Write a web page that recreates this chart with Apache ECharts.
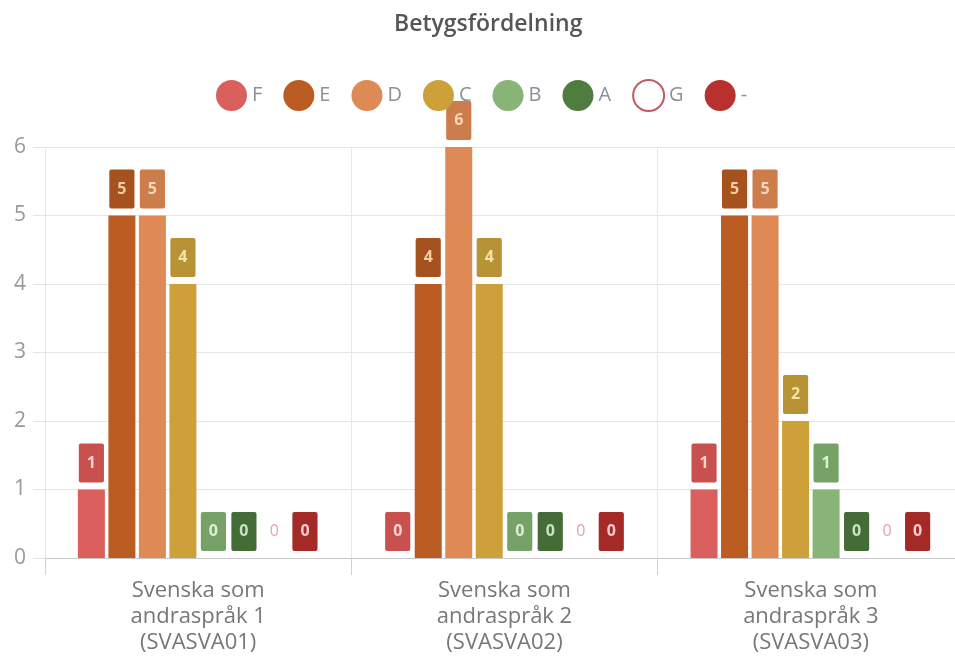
<!DOCTYPE html>
<html>
<head>
<meta charset="utf-8">
<script src="https://cdn.jsdelivr.net/npm/echarts/dist/echarts.min.js"></script>
<style>
  html, body { margin: 0; padding: 0; background: #fff; overflow: hidden; }
  #grade-bar { width: 964px; height: 661px; }
</style>
</head>
<body>
<div id="grade-bar"></div>
<script>
// data
var courses = ['Svenska som\nandraspråk 1\n(SVASVA01)', 'Svenska som\nandraspråk 2\n(SVASVA02)', 'Svenska som\nandraspråk 3\n(SVASVA03)']
var grades = ['F', 'E', 'D', 'C', 'B', 'A', 'G', '-']
var countF = [1, 0, 1]
var countE = [5, 4, 5]
var countD = [5, 6, 5]
var countC = [4, 4, 2]
var countB = [0, 0, 1]
var countA = [0, 0, 0]
var countG = [0, 0, 0]
var countDash = [0, 0, 0]
var yTicks = [0, 1, 2, 3, 4, 5, 6]

// styles per grade: bar, label box, label text
var styles = {
  'F': { bar: '#d9605d', box: '#c8504f', text: '#f8d2d0' },
  'E': { bar: '#bb5d22', box: '#a5521f', text: '#f5cba4' },
  'D': { bar: '#df8a55', box: '#cd7c4b', text: '#fad7b8' },
  'C': { bar: '#cda03a', box: '#b89336', text: '#f7e3a4' },
  'B': { bar: '#88b577', box: '#77a267', text: '#dcefd4' },
  'A': { bar: '#4f7d3f', box: '#446c37', text: '#cae3c2' },
  'G': { bar: '#ffffff', box: 'rgba(255,255,255,0)', text: '#e3a3b3', border: '#c25a63' },
  '-': { bar: '#b8312f', box: '#a42a28', text: '#f7cccc' }
}
var counts = [countF, countE, countD, countC, countB, countA, countG, countDash]

var series = []
var legendData = []
for (var i = 0; i < grades.length; i++) {
  var s = styles[grades[i]]
  legendData.push(s.border
    ? { name: grades[i], itemStyle: { color: '#fff', borderColor: s.border, borderWidth: 2 } }
    : { name: grades[i] })
  series.push({
    name: grades[i],
    type: 'bar',
    barWidth: 27,
    barGap: '13%',
    data: counts[i],
    itemStyle: { color: s.bar },
    label: {
      show: true,
      position: 'top',
      distance: 7,
      color: s.text,
      fontFamily: 'Open Sans',
      fontSize: 16,
      fontWeight: s.border ? 'normal' : 'bold',
      lineHeight: 19,
      backgroundColor: s.box,
      borderRadius: 2,
      padding: [10, 8]
    }
  })
}

var chart = echarts.init(document.getElementById('grade-bar'))
chart.setOption({
  animation: false,
  textStyle: { fontFamily: 'Open Sans' },
  title: {
    text: 'Betygsfördelning',
    left: 389,
    top: 8,
    textStyle: { color: '#555', fontSize: 23, fontWeight: 600, fontFamily: 'Open Sans' }
  },
  legend: {
    data: legendData,
    left: 211,
    top: 74,
    icon: 'circle',
    itemWidth: 31,
    itemHeight: 31,
    itemGap: 21,
    textStyle: { color: '#8a8f99', fontSize: 20, fontFamily: 'Open Sans' }
  },
  grid: {
    left: 45,
    right: 0,
    top: 147,
    bottom: 103,
    containLabel: false
  },
  xAxis: {
    type: 'category',
    data: courses,
    axisLine: { lineStyle: { color: '#c8c8c8' } },
    axisTick: { show: true, length: 17, lineStyle: { color: '#d0d0d0' } },
    splitLine: { show: true, lineStyle: { color: '#e8e8e8' } },
    axisLabel: { color: '#777', fontSize: 22, lineHeight: 26, margin: 20, fontFamily: 'Open Sans' }
  },
  yAxis: {
    type: 'value',
    min: yTicks[0],
    max: yTicks[yTicks.length - 1],
    interval: 1,
    axisLine: { show: false },
    axisTick: { show: true, length: 12, lineStyle: { color: '#e6e6e6' } },
    splitLine: { lineStyle: { color: '#e6e6e6' } },
    axisLabel: { color: '#999', fontSize: 21, margin: 19, fontFamily: 'Open Sans' }
  },
  series: series
})
</script>
</body>
</html>
